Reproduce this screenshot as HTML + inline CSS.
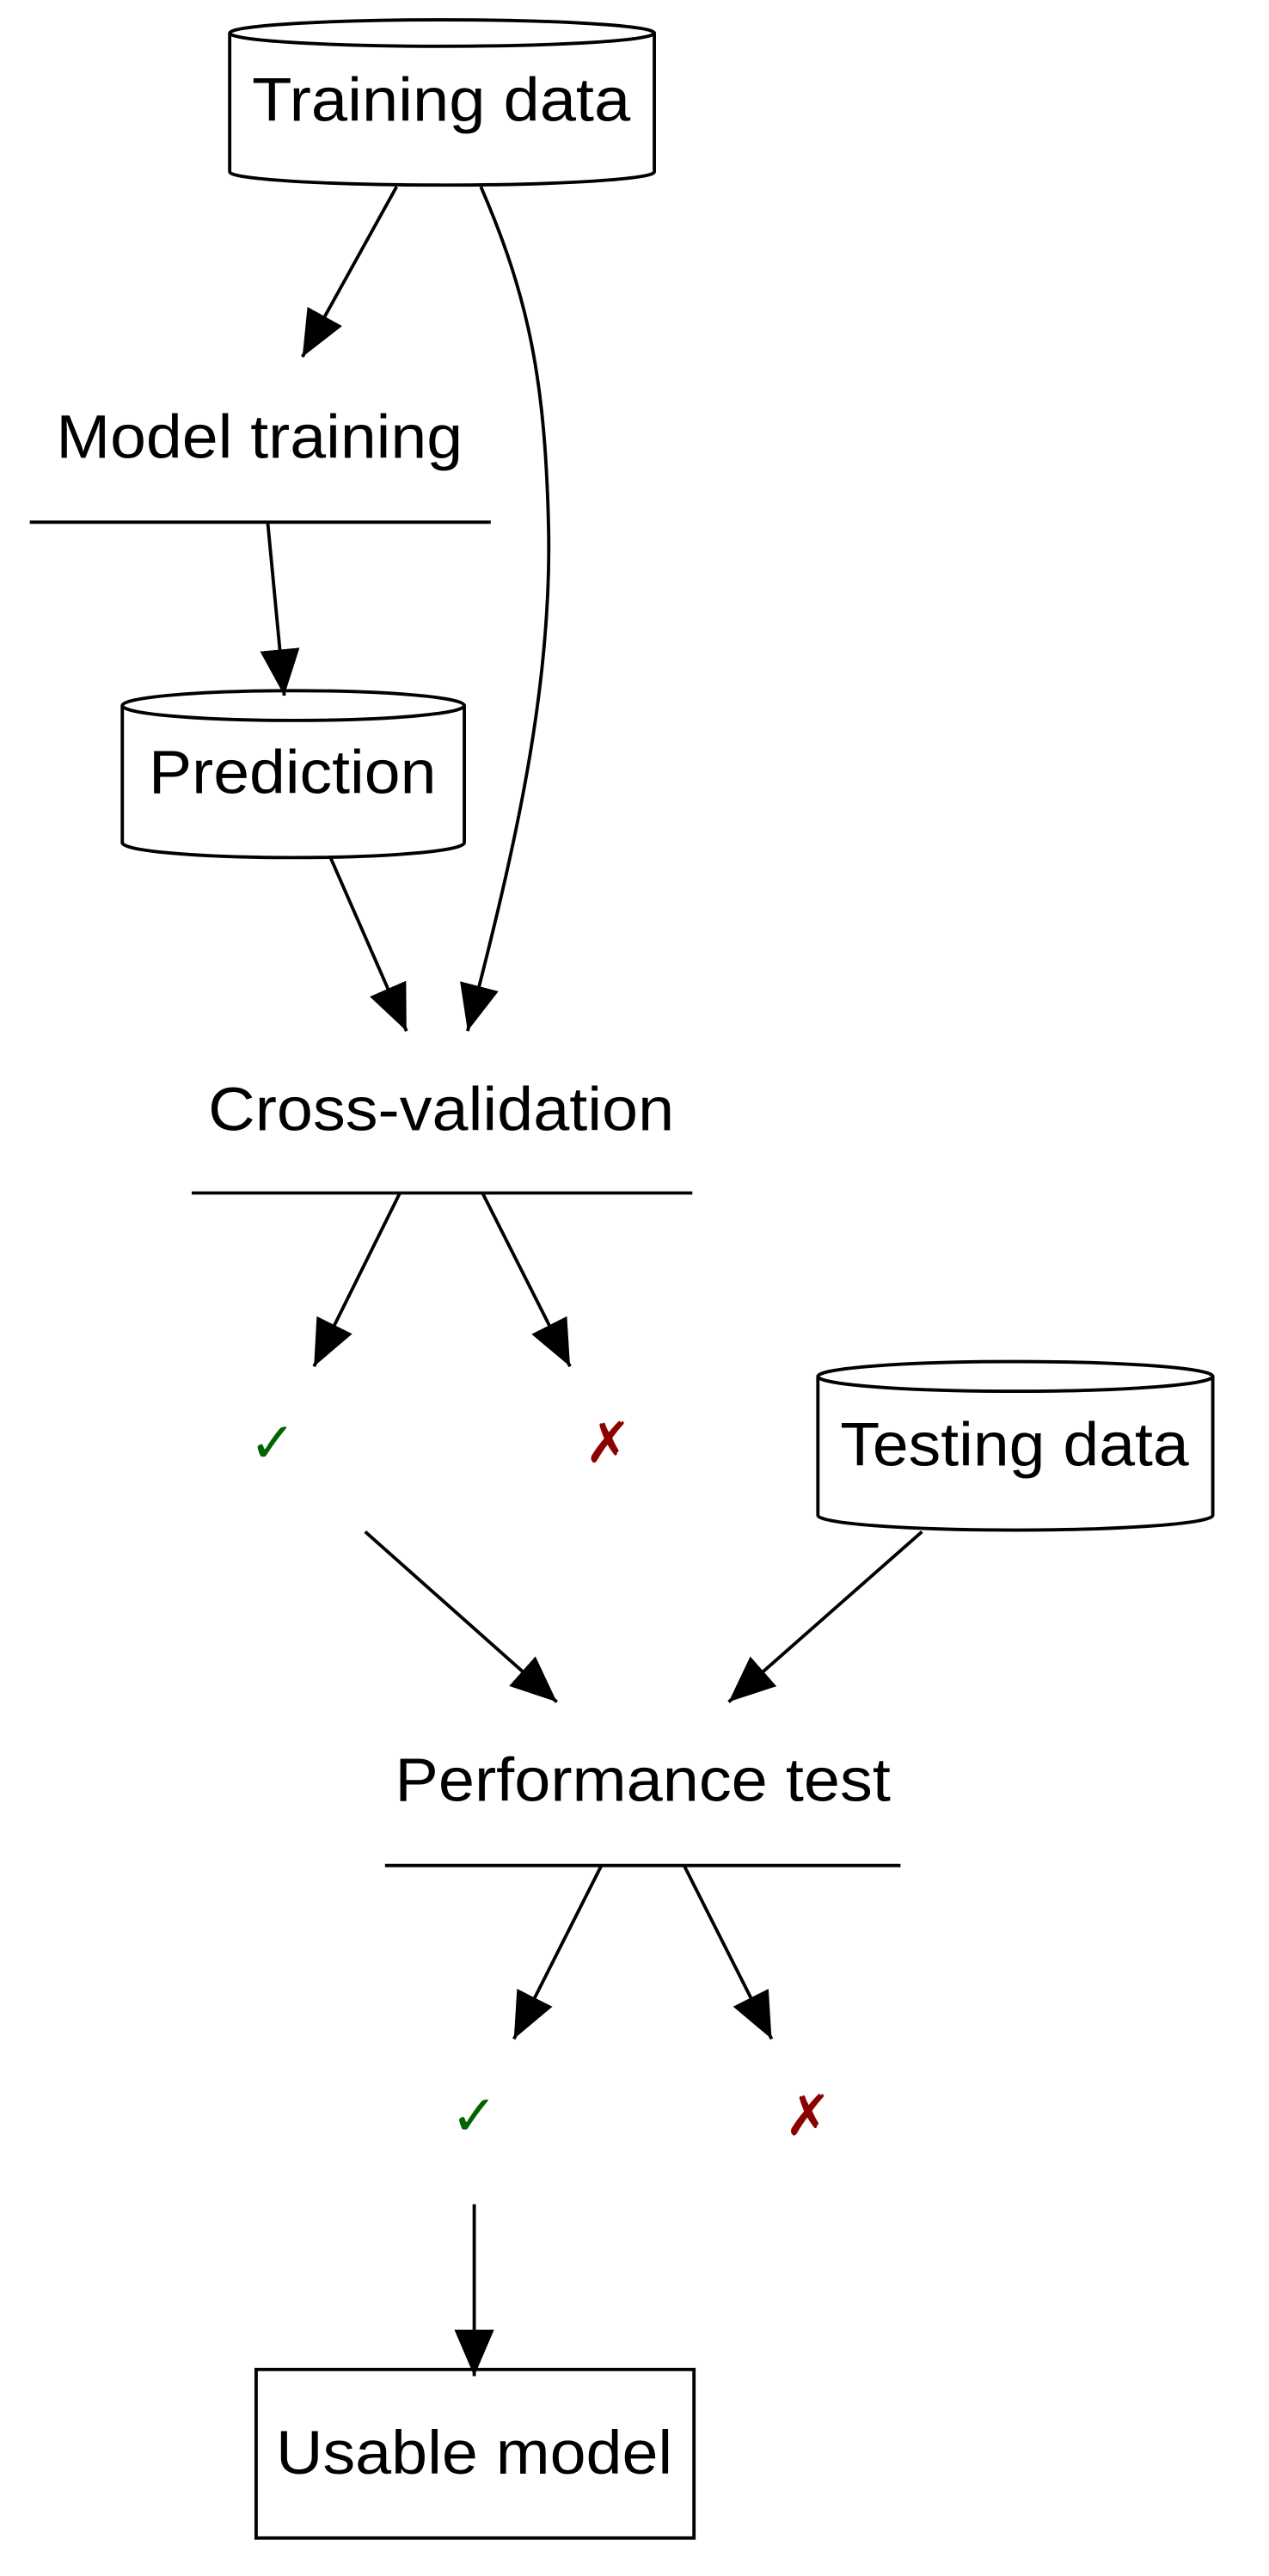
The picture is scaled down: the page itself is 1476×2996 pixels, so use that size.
<!DOCTYPE html>
<html><head><meta charset="utf-8"><style>
html,body{margin:0;padding:0;background:#fff;}
svg{display:block;}
text{font-family:"Liberation Sans","DejaVu Sans",sans-serif;font-size:37px;fill:#000;}
</style></head><body>
<svg width="1476" height="2996" viewBox="0 0 768 1559" xmlns="http://www.w3.org/2000/svg">
<defs>
<marker id="a" viewBox="0 0 28 24" refX="28" refY="12" markerWidth="28" markerHeight="24" markerUnits="userSpaceOnUse" orient="auto">
<path d="M0,0 L28,12 L0,24 z" fill="#000"/>
</marker>
</defs>
<g fill="none" stroke="#000" stroke-width="2">
<path d="M139,20 L139,104 A128.5,8 0 0 0 396,104 L396,20"/>
<ellipse cx="267.5" cy="20" rx="128.5" ry="8"/>
<path d="M74,427 L74,510 A103.5,9 0 0 0 281,510 L281,427"/>
<ellipse cx="177.5" cy="427" rx="103.5" ry="9"/>
<path d="M495,833 L495,917 A119.5,9 0 0 0 734,917 L734,833"/>
<ellipse cx="614.5" cy="833" rx="119.5" ry="9"/>
<rect x="155" y="1434" width="265" height="102"/>
<line x1="18" y1="316" x2="297" y2="316"/>
<line x1="116" y1="722" x2="419" y2="722"/>
<line x1="233" y1="1129" x2="545" y2="1129"/>
<line x1="240" y1="113" x2="183" y2="216" marker-end="url(#a)"/>
<path d="M291,113 C320,180 330,230 332,320 C334,420 310,520 283,624" marker-end="url(#a)"/>
<line x1="162" y1="316" x2="172" y2="421" marker-end="url(#a)"/>
<line x1="200" y1="519" x2="246" y2="624" marker-end="url(#a)"/>
<line x1="242" y1="722" x2="190" y2="827" marker-end="url(#a)"/>
<line x1="292" y1="722" x2="345" y2="827" marker-end="url(#a)"/>
<line x1="221" y1="927" x2="337" y2="1030" marker-end="url(#a)"/>
<line x1="558" y1="927" x2="441" y2="1030" marker-end="url(#a)"/>
<line x1="364" y1="1129" x2="311" y2="1234" marker-end="url(#a)"/>
<line x1="414" y1="1129" x2="467" y2="1234" marker-end="url(#a)"/>
<line x1="287" y1="1334" x2="287" y2="1438" marker-end="url(#a)"/>
</g>
<text x="267" y="73" text-anchor="middle" textLength="229" lengthAdjust="spacingAndGlyphs">Training data</text>
<text x="157" y="277" text-anchor="middle" textLength="246" lengthAdjust="spacingAndGlyphs">Model training</text>
<text x="177" y="480" text-anchor="middle" textLength="174" lengthAdjust="spacingAndGlyphs">Prediction</text>
<text x="267" y="684" text-anchor="middle" textLength="282" lengthAdjust="spacingAndGlyphs">Cross-validation</text>
<text x="614" y="887" text-anchor="middle" textLength="211" lengthAdjust="spacingAndGlyphs">Testing data</text>
<text x="389" y="1090" text-anchor="middle" textLength="300" lengthAdjust="spacingAndGlyphs">Performance test</text>
<text x="287" y="1497" text-anchor="middle" textLength="240" lengthAdjust="spacingAndGlyphs">Usable model</text>
<text x="165" y="885" text-anchor="middle" style="fill:#006400;font-family:'DejaVu Sans',sans-serif;font-size:34px">✓</text>
<text x="368" y="885" text-anchor="middle" style="fill:#8b0000;font-family:'DejaVu Sans',sans-serif;font-size:34px">✗</text>
<text x="287" y="1292" text-anchor="middle" style="fill:#006400;font-family:'DejaVu Sans',sans-serif;font-size:34px">✓</text>
<text x="489" y="1292" text-anchor="middle" style="fill:#8b0000;font-family:'DejaVu Sans',sans-serif;font-size:34px">✗</text>
</svg>
</body></html>
